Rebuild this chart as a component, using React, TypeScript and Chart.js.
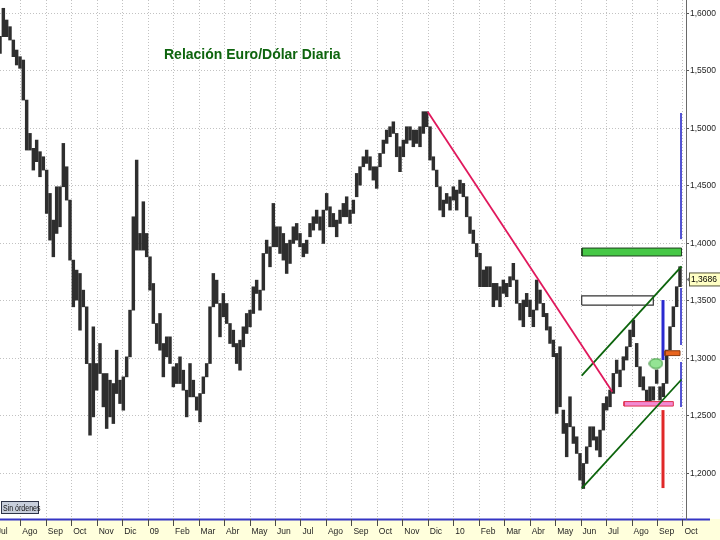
import React, { useEffect, useRef } from 'react';
import { Chart, registerables } from 'chart.js';

Chart.register(...registerables);

const TITLE = 'Relación Euro/Dólar Diaria';
const ORDERS_LABEL = 'Sin órdenes';

// x unit: months since 1 Jul 2008
const monthLabels = ['Jul', 'Ago', 'Sep', 'Oct', 'Nov', 'Dic', '09', 'Feb', 'Mar', 'Abr', 'May', 'Jun',
  'Jul', 'Ago', 'Sep', 'Oct', 'Nov', 'Dic', '10', 'Feb', 'Mar', 'Abr', 'May', 'Jun', 'Jul', 'Ago', 'Sep', 'Oct'];
const monthTicks = [0, 1, 2, 3, 4, 5, 6, 7, 8, 9, 10, 11, 12, 13, 14, 15, 16, 17, 18, 19, 20, 21, 22, 23, 24, 25, 26, 27];
const priceTicks = [1.2, 1.25, 1.3, 1.35, 1.4, 1.45, 1.5, 1.55, 1.6];

const xMin = 0.1834;
const xMax = 27.118;
const yMin = 1.1603;
const yMax = 1.6116;

// each bar = high/low range of ~4 calendar days
const firstBarMonth = 0.1834;
const barStepMonths = 0.13088;

const highs = [
  1.5800, 1.6044, 1.5942, 1.5884, 1.5768, 1.5681, 1.5623, 1.5594, 1.5246, 1.4956,
  1.4826, 1.4898, 1.4797, 1.4753, 1.4637, 1.4434, 1.4202, 1.4492, 1.4492, 1.4869,
  1.4666, 1.4376, 1.3854, 1.3767, 1.3738, 1.3593, 1.3448, 1.2955, 1.3274, 1.2955,
  1.3129, 1.2868, 1.2868, 1.2810, 1.2781, 1.3071, 1.2810, 1.2839, 1.3013, 1.3419,
  1.4231, 1.4724, 1.4086, 1.4362, 1.4086, 1.3883, 1.3651, 1.3303, 1.3390, 1.3129,
  1.3187, 1.3187, 1.2926, 1.2955, 1.3013, 1.2897, 1.2723, 1.2955, 1.2810, 1.2665,
  1.2694, 1.2839, 1.2955, 1.3448, 1.3738, 1.3680, 1.3477, 1.3564, 1.3477, 1.3303,
  1.3245, 1.3129, 1.3158, 1.3274, 1.3390, 1.3419, 1.3622, 1.3680, 1.3593, 1.3912,
  1.4028, 1.3970, 1.4347, 1.4144, 1.4144, 1.4086, 1.3999, 1.4028, 1.4144, 1.4173,
  1.4086, 1.3999, 1.4028, 1.4173, 1.4231, 1.4289, 1.4231, 1.4289, 1.4434, 1.4318,
  1.4260, 1.4202, 1.4289, 1.4347, 1.4405, 1.4289, 1.4376, 1.4608, 1.4666, 1.4753,
  1.4811, 1.4753, 1.4666, 1.4666, 1.4782, 1.4898, 1.4985, 1.5014, 1.5057, 1.4956,
  1.4840, 1.4898, 1.5014, 1.5014, 1.4985, 1.4985, 1.5014, 1.5145, 1.5145, 1.5014,
  1.4753, 1.4637, 1.4492, 1.4376, 1.4434, 1.4405, 1.4492, 1.4463, 1.4550, 1.4521,
  1.4405, 1.4231, 1.4115, 1.3999, 1.3913, 1.3768, 1.3797, 1.3797, 1.3652, 1.3652,
  1.3623, 1.3681, 1.3652, 1.3710, 1.3826, 1.3681, 1.3478, 1.3507, 1.3565, 1.3507,
  1.3420, 1.3681, 1.3594, 1.3478, 1.3391, 1.3275, 1.3159, 1.3043, 1.3101, 1.2550,
  1.2434, 1.2666, 1.2405, 1.2318, 1.2173, 1.2086, 1.2231, 1.2405, 1.2405, 1.2318,
  1.2376, 1.2608, 1.2666, 1.2724, 1.2869, 1.2985, 1.2898, 1.3014, 1.3101, 1.3246,
  1.3333, 1.3130, 1.2927, 1.2840, 1.2724, 1.2753, 1.2753, 1.2898, 1.2753, 1.2782,
  1.3072, 1.3275, 1.3449, 1.3623, 1.3797,
];

const lows = [
  1.5652, 1.5797, 1.5797, 1.5768, 1.5623, 1.5551, 1.5522, 1.5246, 1.4811, 1.4811,
  1.4637, 1.4710, 1.4579, 1.4637, 1.4260, 1.4028, 1.3883, 1.4086, 1.4144, 1.4492,
  1.4376, 1.3854, 1.3448, 1.3506, 1.3245, 1.3448, 1.2954, 1.2332, 1.2491, 1.2723,
  1.2868, 1.2578, 1.2390, 1.2491, 1.2433, 1.2694, 1.2607, 1.2549, 1.2839, 1.3013,
  1.3419, 1.3941, 1.3941, 1.3941, 1.3883, 1.3593, 1.3303, 1.3129, 1.3071, 1.2839,
  1.3013, 1.2955, 1.2752, 1.2781, 1.2781, 1.2723, 1.2491, 1.2665, 1.2665, 1.2549,
  1.2448, 1.2694, 1.2839, 1.2955, 1.3448, 1.3477, 1.3187, 1.3361, 1.3303, 1.3129,
  1.3100, 1.2955, 1.2897, 1.3100, 1.3216, 1.3274, 1.3390, 1.3564, 1.3419, 1.3593,
  1.3912, 1.3796, 1.3970, 1.3970, 1.3912, 1.3854, 1.3738, 1.3825, 1.3999, 1.4028,
  1.3970, 1.3883, 1.3912, 1.4057, 1.4115, 1.4173, 1.4115, 1.3999, 1.4289, 1.4144,
  1.4144, 1.4057, 1.4173, 1.4231, 1.4231, 1.4173, 1.4260, 1.4405, 1.4506, 1.4666,
  1.4695, 1.4637, 1.4550, 1.4478, 1.4666, 1.4782, 1.4869, 1.4927, 1.4956, 1.4753,
  1.4623, 1.4753, 1.4869, 1.4898, 1.4840, 1.4869, 1.4840, 1.4956, 1.5014, 1.4724,
  1.4637, 1.4492, 1.4289, 1.4231, 1.4347, 1.4289, 1.4376, 1.4289, 1.4434, 1.4405,
  1.4231, 1.4086, 1.3999, 1.3883, 1.3623, 1.3623, 1.3623, 1.3623, 1.3449, 1.3507,
  1.3449, 1.3565, 1.3536, 1.3623, 1.3681, 1.3478, 1.3333, 1.3275, 1.3449, 1.3362,
  1.3275, 1.3420, 1.3478, 1.3362, 1.3246, 1.3130, 1.3014, 1.2521, 1.2579, 1.2347,
  1.2144, 1.2405, 1.2260, 1.2173, 1.1941, 1.1868, 1.2086, 1.2231, 1.2289, 1.2202,
  1.2144, 1.2376, 1.2550, 1.2579, 1.2695, 1.2869, 1.2753, 1.2898, 1.2985, 1.3101,
  1.3188, 1.2927, 1.2753, 1.2724, 1.2608, 1.2608, 1.2637, 1.2782, 1.2637, 1.2666,
  1.2782, 1.3072, 1.3275, 1.3449, 1.3623,
];

const lastClose = 1.3686;

// drawn objects (x in months, y in price)
const resistanceLine = [{ x: 16.977, y: 1.5144 }, { x: 24.224, y: 1.2710 }];
const channelUpper = [{ x: 23.023, y: 1.2849 }, { x: 26.942, y: 1.3800 }];
const channelLower = [{ x: 23.023, y: 1.1870 }, { x: 26.942, y: 1.2816 }];
const greenZone = [23.035, 26.942, 1.3890, 1.3959];
const whiteZone = [23.023, 25.834, 1.3463, 1.3544];
const whiteZoneInner = [23.09, 25.77, 1.3482, 1.3525];
const pinkZone = [24.684, 26.620, 1.2585, 1.2624];
const orangeZone = [26.294, 26.883, 1.3024, 1.3066];
const blueBar = [{ x: 26.215, y: 1.2985 }, { x: 26.215, y: 1.3507 }];
const redBar = [{ x: 26.215, y: 1.1872 }, { x: 26.215, y: 1.2550 }];
const thinBlue = [
  { x: 26.922, y: 1.5133 }, { x: 26.922, y: 1.4037 }, { x: 26.922, y: null },
  { x: 26.922, y: 1.3611 }, { x: 26.922, y: 1.3116 }, { x: 26.922, y: null },
  { x: 26.922, y: 1.2968 }, { x: 26.922, y: 1.2577 },
];
const ellipsePoint = [{ x: 25.940, y: 1.2955 }];

const SANS = "'Liberation Sans', Arial, sans-serif";

const rectPts = (r: number[]) => [
  { x: r[0], y: r[2] }, { x: r[1], y: r[2] }, { x: r[1], y: r[3] }, { x: r[0], y: r[3] }, { x: r[0], y: r[2] },
];

const lineDs = (data: any[], color: string, width: number, extra: any = {}) => ({
  type: 'line',
  data,
  borderColor: color,
  borderWidth: width,
  pointRadius: 0,
  pointHoverRadius: 0,
  fill: false,
  tension: 0,
  spanGaps: false,
  order: 1,
  ...extra,
});

const fmtPrice = (v: number) => v.toFixed(4).replace('.', ',');

const decorPlugin = {
  id: 'decor',
  beforeDraw(chart: any) {
    const { ctx, chartArea } = chart;
    ctx.save();
    ctx.fillStyle = '#ffffdc';
    ctx.fillRect(0, chartArea.bottom, chart.width, chart.height - chartArea.bottom);
    ctx.fillStyle = '#3434c4';
    ctx.fillRect(0, chartArea.bottom - 0.5, chartArea.right + 24, 2);
    ctx.restore();
  },
  afterDraw(chart: any) {
    const { ctx, chartArea } = chart;
    const ys = chart.scales.y;
    ctx.save();
    // title
    ctx.font = 'bold 14px ' + SANS;
    ctx.fillStyle = '#0e640e';
    ctx.textAlign = 'left';
    ctx.textBaseline = 'alphabetic';
    ctx.fillText(TITLE, 164, 59);
    // orders box
    const by = chartArea.bottom - 18;
    ctx.fillStyle = '#c8cfdc';
    ctx.fillRect(1.5, by + 0.5, 37, 12);
    ctx.strokeStyle = '#2e3448';
    ctx.lineWidth = 1;
    ctx.strokeRect(1.5, by + 0.5, 37, 12);
    ctx.save();
    ctx.translate(3, by + 10);
    ctx.scale(0.78, 1);
    ctx.font = '9px ' + SANS;
    ctx.fillStyle = '#111111';
    ctx.fillText(ORDERS_LABEL, 0, 0);
    ctx.restore();
    // last price label
    const py = ys.getPixelForValue(lastClose);
    const bx = chartArea.right + 3.5;
    ctx.fillStyle = '#ffffc4';
    ctx.fillRect(bx, py - 6.5, chart.width - bx + 2, 13);
    ctx.strokeStyle = '#55553a';
    ctx.strokeRect(bx, py - 6.5, chart.width - bx + 2, 13);
    ctx.fillStyle = '#777777';
    ctx.beginPath();
    ctx.moveTo(chartArea.right + 0.5, py);
    ctx.lineTo(chartArea.right + 3.5, py - 2.5);
    ctx.lineTo(chartArea.right + 3.5, py + 2.5);
    ctx.closePath();
    ctx.fill();
    ctx.font = '8.5px ' + SANS;
    ctx.fillStyle = '#000000';
    ctx.textBaseline = 'middle';
    ctx.fillText(fmtPrice(lastClose), bx + 1.5, py + 0.5);
    ctx.restore();
  },
};

export default function App() {
  const ref = useRef<HTMLCanvasElement>(null);

  useEffect(() => {
    document.body.style.margin = '0';
    const canvas = ref.current;
    if (!canvas) return;

    const ell = document.createElement('canvas');
    ell.width = 15;
    ell.height = 12;
    const ectx = ell.getContext('2d');
    if (ectx) {
      ectx.beginPath();
      ectx.ellipse(7.5, 6, 6.6, 5, 0, 0, Math.PI * 2);
      ectx.fillStyle = '#94e494';
      ectx.fill();
      ectx.strokeStyle = '#2f8a2f';
      ectx.lineWidth = 1;
      ectx.stroke();
    }

    const bars = highs.map((h, i) => ({ x: firstBarMonth + i * barStepMonths, y: [lows[i], h] }));

    const chart = new Chart(canvas, {
      type: 'bar',
      data: {
        datasets: [
          {
            type: 'bar',
            data: bars as any,
            backgroundColor: '#2e2e2e',
            borderWidth: 0,
            barThickness: 2.8,
            grouped: false,
            order: 10,
          } as any,
          lineDs(resistanceLine, '#e0185c', 1.8),
          lineDs(channelUpper, '#0c640c', 1.8),
          lineDs(channelLower, '#0c640c', 1.8),
          lineDs(rectPts(greenZone), '#1e3e1e', 1, { fill: 'shape', backgroundColor: '#46c846' }),
          lineDs(rectPts(whiteZone), '#333333', 1.2, { fill: 'shape', backgroundColor: '#ffffff' }),
          lineDs(rectPts(whiteZoneInner), '#8c948c', 1, { fill: 'shape', backgroundColor: '#e2e8e2' }),
          lineDs(rectPts(pinkZone), '#e03050', 1, { fill: 'shape', backgroundColor: '#f28ad2' }),
          lineDs(rectPts(orangeZone), '#8a3a10', 1, { fill: 'shape', backgroundColor: '#e8641e' }),
          lineDs(blueBar, '#2a2ad0', 3),
          lineDs(redBar, '#e02828', 3),
          lineDs(thinBlue, '#3c3ccc', 1),
          lineDs(ellipsePoint, '#2f8a2f', 0, { showLine: false, pointRadius: 7, pointStyle: ell, order: 0 }),
        ] as any,
      },
      options: {
        responsive: false,
        animation: false,
        events: [],
        layout: { padding: 0, autoPadding: false },
        plugins: {
          legend: { display: false },
          tooltip: { enabled: false },
          title: { display: false },
        },
        scales: {
          x: {
            type: 'linear',
            position: 'bottom',
            min: xMin,
            max: xMax,
            offset: false,
            afterBuildTicks: (s: any) => {
              s.ticks = monthTicks.map((v) => ({ value: v }));
            },
            afterFit: (s: any) => {
              s.height = 21;
              s.paddingLeft = 0;
              s.paddingRight = 0;
            },
            ticks: {
              autoSkip: false,
              maxRotation: 0,
              minRotation: 0,
              align: 'start',
              labelOffset: 1.5,
              padding: 1,
              color: '#1e1e1e',
              font: { family: SANS, size: 8.5 },
              callback: (_v: any, i: number) => monthLabels[i] ?? '',
            },
            grid: {
              color: '#c2c2c2',
              lineWidth: 1,
              tickLength: 7,
              tickColor: '#4a4a4a',
              offset: false,
              drawTicks: true,
            },
            border: { display: false, dash: [1, 2] },
          },
          y: {
            type: 'linear',
            position: 'right',
            min: yMin,
            max: yMax,
            beginAtZero: false,
            afterBuildTicks: (s: any) => {
              s.ticks = priceTicks.map((v) => ({ value: v }));
            },
            afterFit: (s: any) => {
              s.width = 34;
              s.paddingTop = 0;
              s.paddingBottom = 0;
            },
            ticks: {
              color: '#1e1e1e',
              padding: 1,
              font: { family: SANS, size: 8.5 },
              callback: (v: any) => fmtPrice(Number(v)),
            },
            grid: {
              color: '#c2c2c2',
              lineWidth: 1,
              tickLength: 3,
              tickColor: '#555555',
            },
            border: { display: true, color: '#6a6a6a', width: 1, dash: [1, 2] },
          },
        },
      } as any,
      plugins: [decorPlugin],
    });

    return () => chart.destroy();
  }, []);

  return (
    <div style={{ width: 720, height: 540, background: '#ffffff' }}>
      <canvas ref={ref} width={720} height={540} style={{ display: 'block' }} />
    </div>
  );
}
